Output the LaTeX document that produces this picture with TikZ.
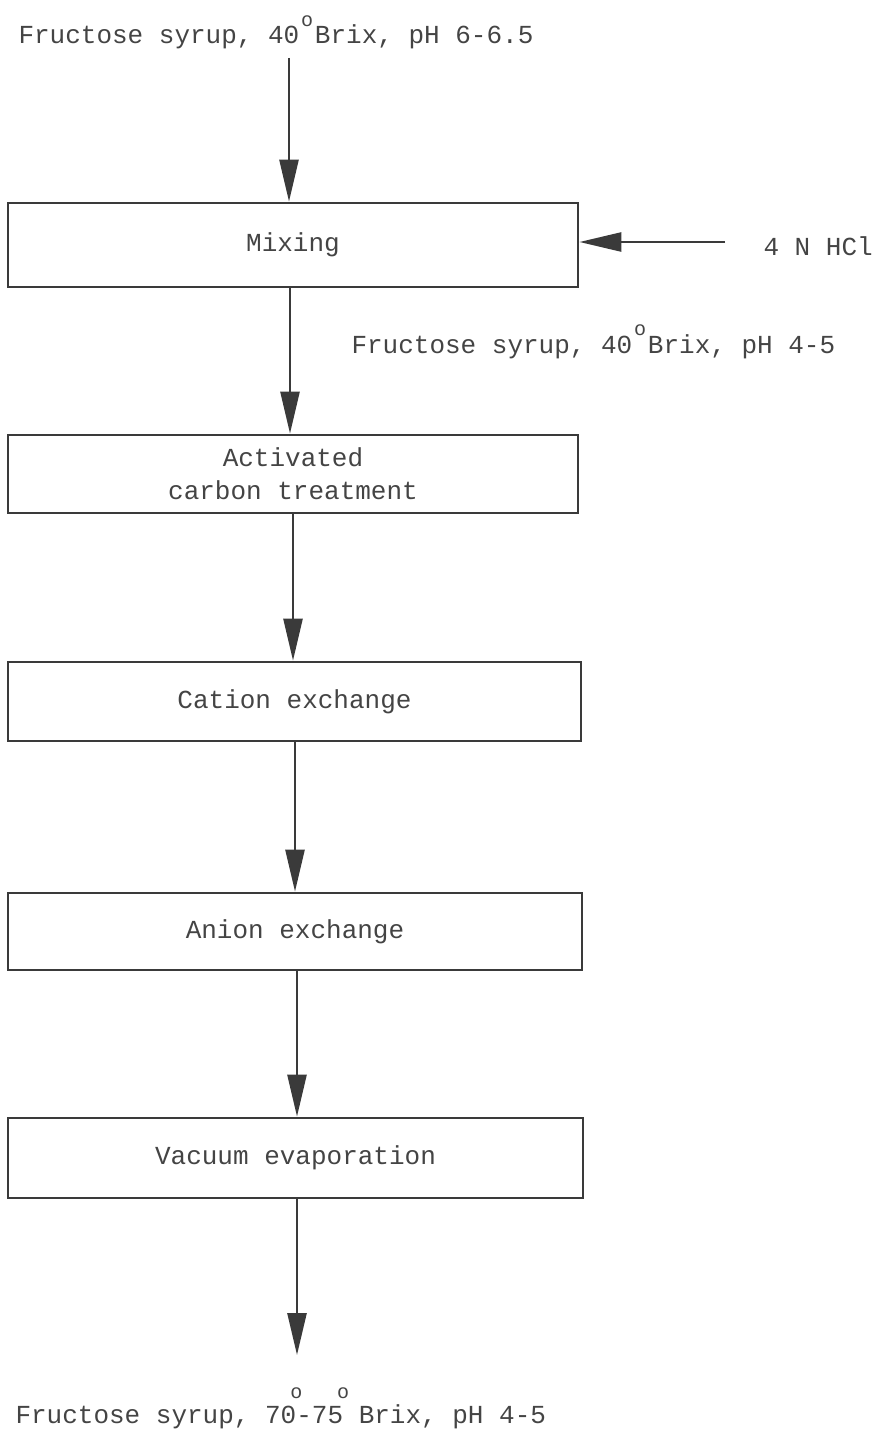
\documentclass[tikz,border=0pt]{standalone}
\usepackage{fontspec}
\setmonofont{Liberation Mono}
\usetikzlibrary{arrows.meta}
\definecolor{txt}{HTML}{444444}
\definecolor{ln}{HTML}{3A3A3A}
\newcommand{\degsup}{\makebox[0.6em]{\raisebox{0.68em}{\fontsize{20}{20}\selectfont o}}}
\newcommand{\degover}{\makebox[0pt]{\raisebox{0.95em}{\fontsize{20}{20}\selectfont o}}}
\begin{document}
\begin{tikzpicture}[x=1pt,y=-1pt,
  every node/.style={font=\ttfamily\fontsize{26}{33}\selectfont, text=txt},
  stepbox/.style={draw=ln, line width=2.8pt, rectangle, inner sep=0pt, align=center},
  flow/.style={draw=ln, line width=2.6pt, -{Triangle[length=42pt,width=19pt]}},
]
\useasboundingbox (0,0) rectangle (875,1429);

\node[anchor=base west] (feed) at (15,44) {Fructose syrup, 40\degsup Brix, pH 6-6.5};
\node[stepbox, minimum width=570pt, minimum height=84pt] (mix) at (293,245) {Mixing};
\node[anchor=base west] (hcl) at (760,255) {4 N HCl};
\node[anchor=base west] (mid) at (348,353) {Fructose syrup, 40\degsup Brix, pH 4-5};
\node[stepbox, minimum width=570pt, minimum height=78pt] (act) at (293,474) {Activated\\carbon treatment};
\node[stepbox, minimum width=573pt, minimum height=79pt] (cat) at (294.5,701.5) {Cation exchange};
\node[stepbox, minimum width=574pt, minimum height=77pt] (ani) at (295,931.5) {Anion exchange};
\node[stepbox, minimum width=575pt, minimum height=80pt] (vac) at (295.5,1158) {Vacuum evaporation};
\node[anchor=base west] (prod) at (12,1423) {Fructose syrup, 70\degover-75\degover{} Brix, pH 4-5};

\coordinate (a1) at (289,58);
\coordinate (h1) at (725,242);
\coordinate (a6) at (297,1355);

\draw[flow] (a1) -- (a1 |- mix.north);
\draw[flow] (h1) -- (h1 -| mix.east);
\draw[flow] ([xshift=-3pt]mix.south) -- ([xshift=-3pt]mix.south |- act.north);
\draw[flow] (act.south) -- (act.south |- cat.north);
\draw[flow] ([xshift=0.5pt]cat.south) -- ([xshift=0.5pt]cat.south |- ani.north);
\draw[flow] ([xshift=2pt]ani.south) -- ([xshift=2pt]ani.south |- vac.north);
\draw[flow] ([xshift=1.5pt]vac.south) -- (vac.south -| a6) -- (a6);
\end{tikzpicture}
\end{document}
